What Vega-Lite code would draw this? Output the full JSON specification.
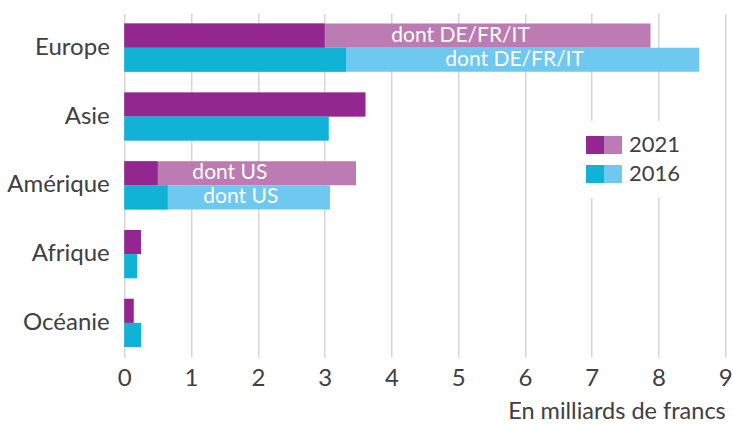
{
  "$schema": "https://vega.github.io/schema/vega-lite/v6.json",
  "width": 601,
  "height": 344,
  "autosize": "none",
  "padding": {"left": 124.3, "top": 13.3, "right": 7.7, "bottom": 67.7},
  "background": "white",
  "config": {
    "font": "Lato",
    "view": {"stroke": null},
    "axis": {"labelFont": "Lato", "titleFont": "Lato", "labelColor": "#404040", "titleColor": "#404040"}
  },
  "data": {
    "values": [
      {"region": "Europe", "year": "2021", "part": 3.0, "total": 7.88, "label": "dont DE/FR/IT"},
      {"region": "Europe", "year": "2016", "part": 3.32, "total": 8.61, "label": "dont DE/FR/IT"},
      {"region": "Asie", "year": "2021", "part": 3.61, "total": 3.61, "label": null},
      {"region": "Asie", "year": "2016", "part": 3.06, "total": 3.06, "label": null},
      {"region": "Amérique", "year": "2021", "part": 0.5, "total": 3.47, "label": "dont US"},
      {"region": "Amérique", "year": "2016", "part": 0.65, "total": 3.08, "label": "dont US"},
      {"region": "Afrique", "year": "2021", "part": 0.25, "total": 0.25, "label": null},
      {"region": "Afrique", "year": "2016", "part": 0.19, "total": 0.19, "label": null},
      {"region": "Océanie", "year": "2021", "part": 0.14, "total": 0.14, "label": null},
      {"region": "Océanie", "year": "2016", "part": 0.25, "total": 0.25, "label": null}
    ]
  },
  "encoding": {
    "y": {
      "field": "region", "type": "nominal",
      "sort": ["Europe", "Asie", "Amérique", "Afrique", "Océanie"],
      "scale": {"paddingInner": 0.3, "paddingOuter": 0.15},
      "axis": {"title": null, "domain": false, "ticks": false, "labelFontSize": 24, "labelPadding": 15}
    },
    "yOffset": {
      "field": "year", "type": "nominal", "sort": ["2021", "2016"],
      "scale": {"paddingInner": 0, "paddingOuter": 0}
    }
  },
  "layer": [
    {
      "mark": {"type": "bar", "cornerRadius": 0},
      "encoding": {
        "x": {
          "field": "total", "type": "quantitative",
          "scale": {"domain": [0, 9], "nice": false},
          "axis": {
            "title": "En milliards de francs", "titleFontSize": 23.5, "titleFontWeight": "normal",
            "titleAnchor": "end", "titlePadding": 9,
            "values": [0, 1, 2, 3, 4, 5, 6, 7, 8, 9], "format": "d",
            "labelFontSize": 24, "labelPadding": 9, "labelFlush": false,
            "domain": false, "ticks": false,
            "grid": true, "gridColor": "#D0D0D0", "gridWidth": 1.3
          }
        },
        "color": {
          "field": "year", "type": "nominal",
          "scale": {"domain": ["2021", "2016"], "range": ["#BC7BB3", "#6EC8EF"]},
          "legend": {
            "title": null, "orient": "none", "legendX": 444.7, "legendY": 107.7,
            "fillColor": "white", "padding": 13,
            "symbolType": "square", "symbolSize": 324, "symbolStrokeWidth": 0, "symbolOffset": 20,
            "labelOffset": 5, "labelFont": "Lato", "labelFontSize": 22, "labelColor": "#404040",
            "rowPadding": 7
          }
        }
      }
    },
    {
      "mark": {"type": "bar"},
      "encoding": {
        "x": {"field": "part", "type": "quantitative"},
        "color": {
          "field": "year", "type": "nominal",
          "scale": {"domain": ["2021", "2016"], "range": ["#93278F", "#10B2D6"]},
          "legend": {
            "title": null, "orient": "none", "legendX": 459.7, "legendY": 120.7,
            "padding": 0,
            "symbolType": "square", "symbolSize": 324, "symbolStrokeWidth": 0,
            "labelExpr": "''", "labelFont": "Lato", "labelFontSize": 22,
            "rowPadding": 7
          }
        }
      }
    },
    {
      "transform": [
        {"filter": "datum.label != null && datum.year == '2021'"},
        {"fold": ["part", "total"], "as": ["end", "value"]}
      ],
      "mark": {"type": "text", "color": "white", "font": "Lato", "fontSize": 21, "align": "center", "baseline": "middle", "dx": -27},
      "encoding": {
        "x": {"aggregate": "mean", "field": "value", "type": "quantitative"},
        "text": {"field": "label", "type": "nominal"}
      }
    },
    {
      "transform": [
        {"filter": "datum.label != null && datum.year == '2016'"},
        {"fold": ["part", "total"], "as": ["end", "value"]}
      ],
      "mark": {"type": "text", "color": "white", "font": "Lato", "fontSize": 21, "align": "center", "baseline": "middle", "dx": -8},
      "encoding": {
        "x": {"aggregate": "mean", "field": "value", "type": "quantitative"},
        "text": {"field": "label", "type": "nominal"}
      }
    }
  ],
  "resolve": {"scale": {"color": "independent"}, "legend": {"color": "independent"}}
}
